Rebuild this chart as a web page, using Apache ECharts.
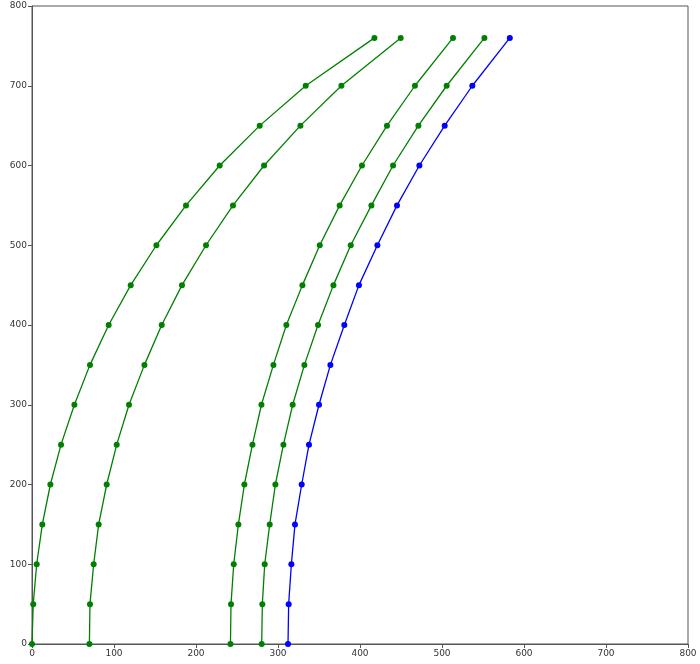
<!DOCTYPE html>
<html>
<head>
<meta charset="utf-8">
<script src="https://cdn.jsdelivr.net/npm/echarts@6/dist/echarts.min.js"></script>
<style>html,body{margin:0;padding:0;background:#fff}#c{width:700px;height:664px}</style>
</head>
<body>
<div id="c"></div>
<script>
const yLevels = [0, 50, 100, 150, 200, 250, 300, 350, 400, 450, 500, 550, 600, 650, 700, 760];
const xTicks = [0, 100, 200, 300, 400, 500, 600, 700, 800];
const yTicks = [0, 100, 200, 300, 400, 500, 600, 700, 800];
const curve1 = [0, 1.5, 5.7, 12.6, 22.4, 35.4, 51.7, 70.7, 93.5, 120.4, 151.7, 187.8, 228.9, 277.7, 333.8, 417.6];
const curve2 = [70, 70.7, 75.2, 81.3, 91.1, 103.3, 118.3, 137.1, 158.2, 182.9, 212.2, 245.1, 283, 327.3, 377.3, 449.6];
const curve3 = [242, 242.7, 246, 251.7, 259, 268.8, 279.8, 294.4, 310.2, 329.8, 350.9, 375.2, 402.4, 432.9, 467, 513.4];
const curve4 = [280.1, 280.9, 283.8, 289.9, 296.8, 306.6, 317.9, 332.2, 348.8, 367.6, 388.7, 413.9, 440.3, 471.2, 505.7, 551.7];
const curve5 = [312.2, 313, 316.3, 320.7, 328.9, 337.8, 350, 363.9, 380.9, 398.7, 421.2, 445.1, 472.4, 503.3, 537, 582.7];

const curves = [
  {name: 'c1', xs: curve1, color: '#008000'},
  {name: 'c2', xs: curve2, color: '#008000'},
  {name: 'c3', xs: curve3, color: '#008000'},
  {name: 'c4', xs: curve4, color: '#008000'},
  {name: 'c5', xs: curve5, color: '#0000ff'}
];

const chart = echarts.init(document.getElementById('c'), null, {renderer: 'canvas'});
const axisCommon = {
  type: 'value', min: 0, max: 800, interval: 100,
  axisLine: {show: true, onZero: false, lineStyle: {color: '#555', width: 1}},
  axisTick: {show: true, inside: false, length: 4, lineStyle: {color: '#555'}},
  axisLabel: {color: '#333', fontSize: 9, fontFamily: 'DejaVu Sans', margin: 5},
  splitLine: {show: false}
};
chart.setOption({
  animation: false,
  backgroundColor: '#fff',
  grid: {left: 32, right: 12, top: 6, bottom: 20, show: true, borderColor: '#555', borderWidth: 1, containLabel: false},
  xAxis: Object.assign({}, axisCommon, {axisLabel: Object.assign({}, axisCommon.axisLabel, {
    customValues: xTicks, formatter: v => String(v)})}),
  yAxis: Object.assign({}, axisCommon, {axisLabel: Object.assign({}, axisCommon.axisLabel, {
    customValues: yTicks, formatter: v => String(v)})}),
  series: curves.map(c => ({
    name: c.name,
    type: 'line',
    data: c.xs.map((x, i) => [x, yLevels[i]]),
    symbol: 'circle',
    symbolSize: 6,
    showSymbol: true,
    lineStyle: {color: c.color, width: 1.3},
    itemStyle: {color: c.color},
    clip: true,
    z: 3
  }))
});
</script>
</body>
</html>
